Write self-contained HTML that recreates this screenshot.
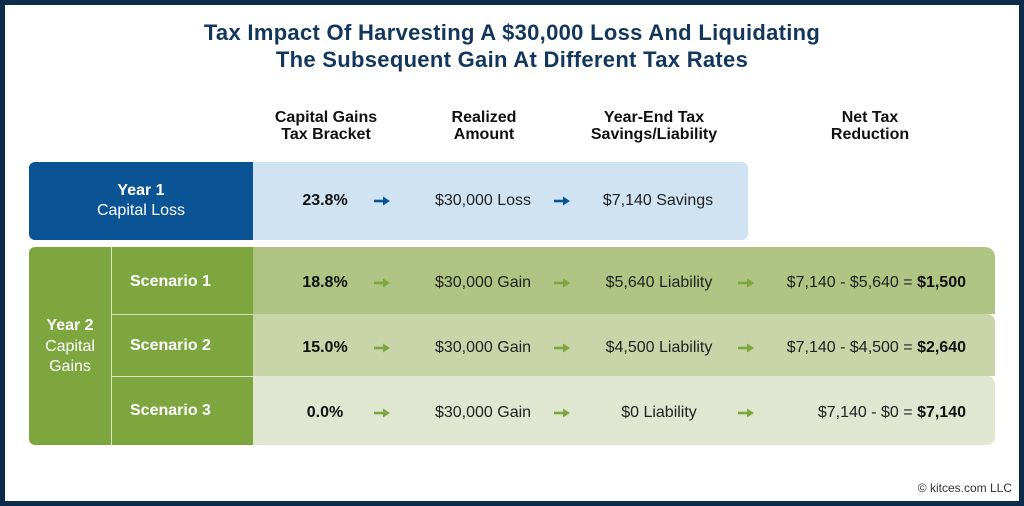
<!DOCTYPE html>
<html><head><style>
body{margin:0;width:1024px;height:506px;position:relative;background:#fff;font-family:"Liberation Sans",sans-serif;overflow:hidden}
.frame{position:absolute;left:0;top:0;width:1014px;height:496px;border:5px solid #0c2c4d}
.a{position:absolute;white-space:nowrap}
.c{text-align:center;transform:translateX(-50%)}
.t{font-size:22px;font-weight:bold;color:#13365c;left:512px;letter-spacing:0.3px}
.h{font-size:16px;font-weight:bold;color:#111;line-height:17px;top:109px}
.box{position:absolute}
.v{font-size:16px;color:#222;transform:translate(-50%,-50%)}
.b{font-weight:bold;color:#111}
.w{color:#fff;font-size:16px}
.ar{position:absolute;transform:translate(-50%,-50%);width:16px;height:10px}
</style></head><body>
<svg width="0" height="0" style="position:absolute"><defs>
<symbol id="arr" viewBox="0 0 16 10"><path d="M0 5H11" stroke="currentColor" stroke-width="2.6"/><path d="M9 0.5L16 5L9 9.5Z" fill="currentColor"/></symbol></defs></svg>
<div class="frame"></div>
<div class="a c t" style="top:20px">Tax Impact Of Harvesting A $30,000 Loss And Liquidating</div>
<div class="a c t" style="top:47px">The Subsequent Gain At Different Tax Rates</div>
<div class="a c h" style="left:326px">Capital Gains<br>Tax Bracket</div>
<div class="a c h" style="left:484px">Realized<br>Amount</div>
<div class="a c h" style="left:654px">Year-End Tax<br>Savings/Liability</div>
<div class="a c h" style="left:870px">Net Tax<br>Reduction</div>

<div class="box" style="left:29px;top:162px;width:719px;height:78px;background:#cfe3f3;border-radius:6px"></div>
<div class="box" style="left:29px;top:162px;width:224px;height:78px;background:#0a5496;border-radius:6px 0 0 6px"></div>
<div class="a c w" style="left:141px;top:182px;font-weight:bold">Year 1</div>
<div class="a c w" style="left:141px;top:202px">Capital Loss</div>

<div class="box" style="left:240px;top:247px;width:755px;height:67px;background:#b0c483;border-radius:10px 10px 0 0"></div>
<div class="box" style="left:240px;top:314px;width:755px;height:62px;background:#c9d5a9;border-radius:0 8px 0 0"></div>
<div class="box" style="left:240px;top:376px;width:755px;height:69px;background:#e0e6cf;border-radius:0 8px 8px 0"></div>
<div class="box" style="left:29px;top:247px;width:224px;height:198px;background:#7ea63f;border-radius:6px 0 0 6px"></div>
<div class="box" style="left:111px;top:247px;width:1px;height:198px;background:#d8e4c0"></div>
<div class="box" style="left:112px;top:314px;width:141px;height:1px;background:#d8e4c0"></div>
<div class="box" style="left:112px;top:376px;width:141px;height:1px;background:#d8e4c0"></div>
<div class="a c w" style="left:70px;top:317px;font-weight:bold">Year 2</div>
<div class="a c w" style="left:70px;top:337px;line-height:20px">Capital<br>Gains</div>
<div class="a w b" style="left:130px;top:273px;color:#fff">Scenario 1</div>
<div class="a w b" style="left:130px;top:337px;color:#fff">Scenario 2</div>
<div class="a w b" style="left:130px;top:402px;color:#fff">Scenario 3</div>

<div class="a v b" style="left:325px;top:201px">23.8%</div>
<svg class="ar" style="left:382px;top:201px;color:#0a5496"><use href="#arr"/></svg>
<div class="a v" style="left:483px;top:201px">$30,000 Loss</div>
<svg class="ar" style="left:562px;top:201px;color:#0a5496"><use href="#arr"/></svg>
<div class="a v" style="left:658px;top:201px">$7,140 Savings</div>

<div class="a v b" style="left:325px;top:283px">18.8%</div>
<div class="a v b" style="left:325px;top:348px">15.0%</div>
<div class="a v b" style="left:325px;top:413px">0.0%</div>
<svg class="ar" style="left:382px;top:283px;color:#7ea63f"><use href="#arr"/></svg>
<svg class="ar" style="left:382px;top:348px;color:#7ea63f"><use href="#arr"/></svg>
<svg class="ar" style="left:382px;top:413px;color:#7ea63f"><use href="#arr"/></svg>
<div class="a v" style="left:483px;top:283px">$30,000 Gain</div>
<div class="a v" style="left:483px;top:348px">$30,000 Gain</div>
<div class="a v" style="left:483px;top:413px">$30,000 Gain</div>
<svg class="ar" style="left:562px;top:283px;color:#7ea63f"><use href="#arr"/></svg>
<svg class="ar" style="left:562px;top:348px;color:#7ea63f"><use href="#arr"/></svg>
<svg class="ar" style="left:562px;top:413px;color:#7ea63f"><use href="#arr"/></svg>
<div class="a v" style="left:659px;top:283px">$5,640 Liability</div>
<div class="a v" style="left:659px;top:348px">$4,500 Liability</div>
<div class="a v" style="left:659px;top:413px">$0 Liability</div>
<svg class="ar" style="left:746px;top:283px;color:#7ea63f"><use href="#arr"/></svg>
<svg class="ar" style="left:746px;top:348px;color:#7ea63f"><use href="#arr"/></svg>
<svg class="ar" style="left:746px;top:413px;color:#7ea63f"><use href="#arr"/></svg>
<div class="a" style="right:58px;top:274px;font-size:16px;color:#222">$7,140 - $5,640 = <b style="color:#111">$1,500</b></div>
<div class="a" style="right:58px;top:339px;font-size:16px;color:#222">$7,140 - $4,500 = <b style="color:#111">$2,640</b></div>
<div class="a" style="right:58px;top:404px;font-size:16px;color:#222">$7,140 - $0 = <b style="color:#111">$7,140</b></div>
<div class="a" style="right:12px;top:481px;font-size:12px;color:#333">© kitces.com LLC</div>
</body></html>
